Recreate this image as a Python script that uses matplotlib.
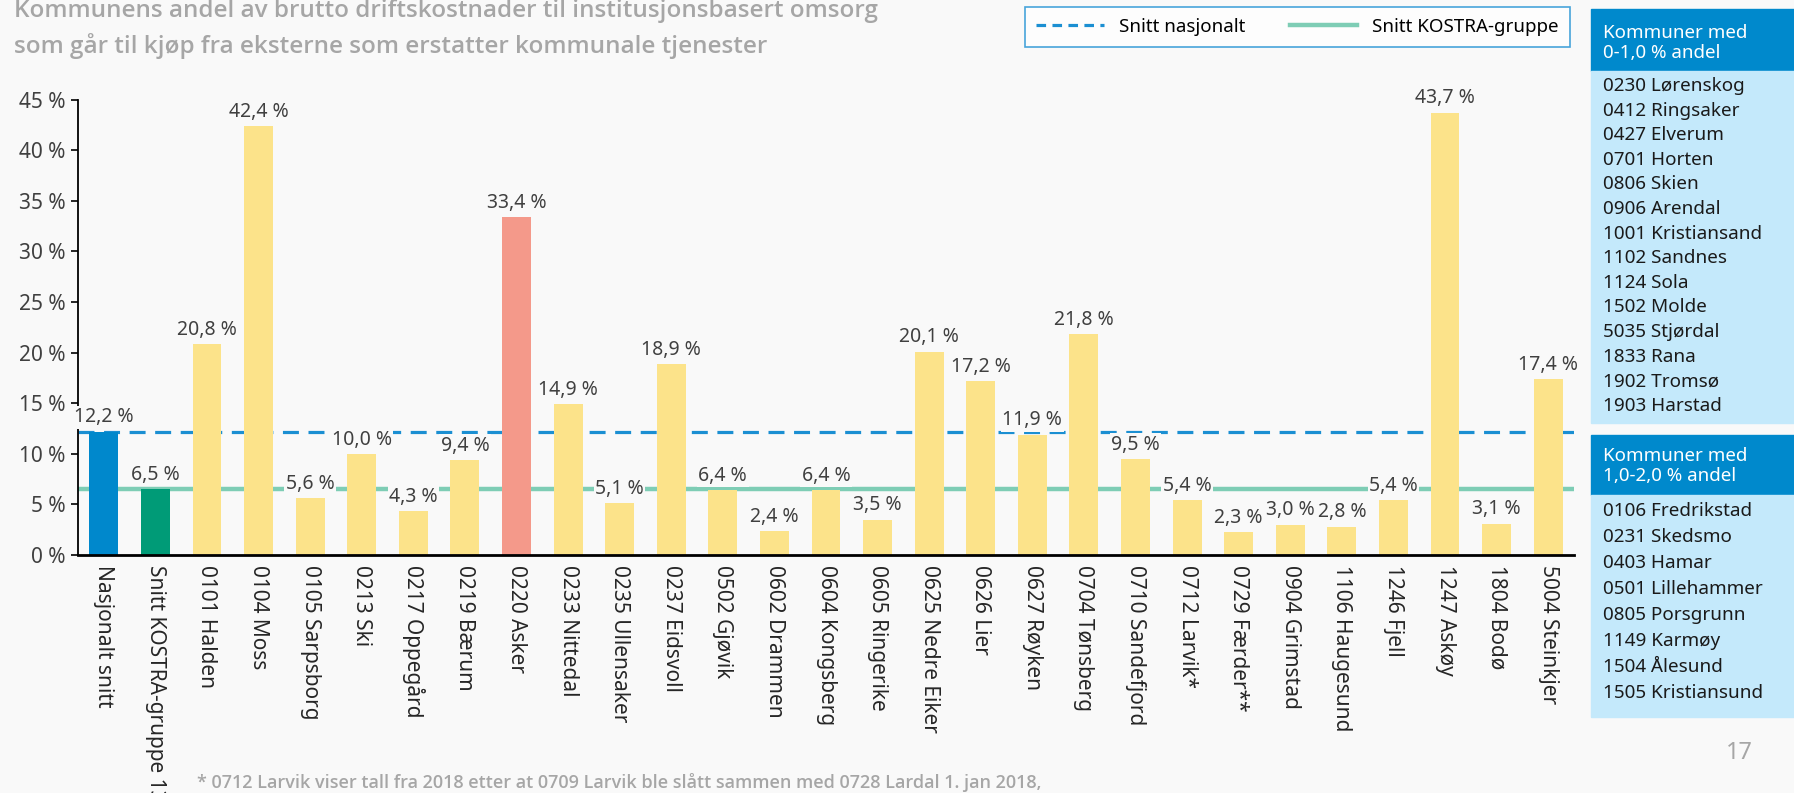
import matplotlib.pyplot as plt
from matplotlib.patches import Rectangle
from matplotlib.lines import Line2D

categories = ['Nasjonalt snitt', 'Snitt KOSTRA-gruppe 13', '0101 Halden', '0104 Moss',
              '0105 Sarpsborg', '0213 Ski', '0217 Oppegård', '0219 Bærum', '0220 Asker',
              '0233 Nittedal', '0235 Ullensaker', '0237 Eidsvoll', '0502 Gjøvik',
              '0602 Drammen', '0604 Kongsberg', '0605 Ringerike', '0625 Nedre Eiker',
              '0626 Lier', '0627 Røyken', '0704 Tønsberg', '0710 Sandefjord',
              '0712 Larvik*', '0729 Færder**', '0904 Grimstad', '1106 Haugesund',
              '1246 Fjell', '1247 Askøy', '1804 Bodø', '5004 Steinkjer']
values = [12.2, 6.5, 20.8, 42.4, 5.6, 10.0, 4.3, 9.4, 33.4, 14.9, 5.1, 18.9, 6.4,
          2.4, 6.4, 3.5, 20.1, 17.2, 11.9, 21.8, 9.5, 5.4, 2.3, 3.0, 2.8, 5.4, 43.7,
          3.1, 17.4]
snitt_nasjonalt = 12.2
snitt_kostra = 6.5
yticks = [0, 5, 10, 15, 20, 25, 30, 35, 40, 45]

title_lines = ['Kommunens andel av brutto driftskostnader til institusjonsbasert omsorg',
               'som går til kjøp fra eksterne som erstatter kommunale tjenester']
panel1_head = 'Kommuner med\n0-1,0 % andel'
panel1_list = ['0230 Lørenskog', '0412 Ringsaker', '0427 Elverum', '0701 Horten',
               '0806 Skien', '0906 Arendal', '1001 Kristiansand', '1102 Sandnes',
               '1124 Sola', '1502 Molde', '5035 Stjørdal', '1833 Rana',
               '1902 Tromsø', '1903 Harstad']
panel2_head = 'Kommuner med\n1,0-2,0 % andel'
panel2_list = ['0106 Fredrikstad', '0231 Skedsmo', '0403 Hamar', '0501 Lillehammer',
               '0805 Porsgrunn', '1149 Karmøy', '1504 Ålesund', '1505 Kristiansund']
footnote = '* 0712 Larvik viser tall fra 2018 etter at 0709 Larvik ble slått sammen med 0728 Lardal 1. jan 2018,'

BG = '#F9F9F9'
YELLOW = '#FCE38A'
colors = ['#0088CC', '#009B77'] + [YELLOW] * (len(values) - 2)
colors[categories.index('0220 Asker')] = '#F4998A'

plt.rcParams['font.family'] = ['Noto Sans', 'DejaVu Sans']

W, H = 1794, 793
fig = plt.figure(figsize=(W / 100, H / 100), dpi=100, facecolor=BG)


def fx(x):
    return x / W


def fy(y):
    return 1 - y / H


ax = fig.add_axes([fx(78), fy(555), fx(1574) - fx(78), fy(99.5) - fy(555)])
ax.set_facecolor(BG)

x = list(range(len(values)))
ax.axhline(snitt_nasjonalt, color='#1B8FD2', lw=2.3, ls=(0, (5, 3)), zorder=1)
ax.axhline(snitt_kostra, color='#7ECDB5', lw=3.2, zorder=1)
ax.bar(x, values, width=0.56, color=colors, zorder=2)

for xi, v in zip(x, values):
    ax.annotate(('%.1f %%' % v).replace('.', ','), (xi, v), xytext=(0, 3),
                textcoords='offset points', ha='center', va='bottom', fontsize=14,
                color='#404040', zorder=3,
                bbox=dict(facecolor=BG, edgecolor='none', pad=1))

ax.set_xlim(-0.5, len(values) - 0.5)
ax.set_ylim(0, 45)
ax.set_yticks(yticks)
ax.set_yticklabels(['%d %%' % t for t in yticks], fontsize=15, color='#404040')
ax.set_xticks(x)
ax.set_xticklabels(categories, rotation=270, fontsize=15, color='#262626', va='top')
ax.tick_params(axis='x', length=0, pad=7)
ax.tick_params(axis='y', length=5, width=1.2, direction='out', pad=4)
for s in ['top', 'right']:
    ax.spines[s].set_visible(False)
ax.spines['left'].set_linewidth(1.3)
ax.spines['bottom'].set_linewidth(2)

# title and footnote
fig.text(fx(14), fy(11), title_lines[0], fontsize=17.5, color='#A6A6A6',
         fontweight='semibold', family='Open Sans', va='center')
fig.text(fx(14), fy(46), title_lines[1], fontsize=17.5, color='#A6A6A6',
         fontweight='semibold', family='Open Sans', va='center')
fig.text(fx(197), fy(783), footnote, fontsize=13, color='#A6A6A6',
         fontweight='semibold', family='Open Sans', va='center')
fig.text(fx(1739), fy(753), '17', fontsize=17, color='#A6A6A6', ha='center', va='center')

# legend
handles = [Line2D([], [], color='#1B8FD2', lw=2.3, ls=(0, (3, 2))),
           Line2D([], [], color='#7ECDB5', lw=3.2)]
leg = fig.legend(handles, ['Snitt nasjonalt', 'Snitt KOSTRA-gruppe'], ncol=2,
                 loc='center', bbox_to_anchor=(fx(1297.5), fy(27)), fontsize=13.5,
                 frameon=True, fancybox=False, edgecolor='#1B8FD2', handlelength=3.6,
                 columnspacing=2.4, borderpad=0.6, handletextpad=0.8)
leg.get_frame().set_facecolor('white')
leg.get_frame().set_linewidth(1.2)

# side panels
HEAD = '#0089CC'
BODY = '#C4E9FB'
fig.patches.append(Rectangle((fx(1591), fy(71)), fx(203), fy(9) - fy(71),
                             transform=fig.transFigure, color=HEAD, zorder=0))
fig.patches.append(Rectangle((fx(1591), fy(423)), fx(203), fy(71) - fy(423),
                             transform=fig.transFigure, color=BODY, zorder=0))
fig.patches.append(Rectangle((fx(1591), fy(495)), fx(203), fy(435) - fy(495),
                             transform=fig.transFigure, color=HEAD, zorder=0))
fig.patches.append(Rectangle((fx(1591), fy(717)), fx(203), fy(495) - fy(717),
                             transform=fig.transFigure, color=BODY, zorder=0))

fig.text(fx(1603), fy(43), panel1_head, fontsize=13.5, color='white', va='center',
         linespacing=1.15)
for i, t in enumerate(panel1_list):
    fig.text(fx(1603), fy(86 + 24.6 * i), t, fontsize=13.6, color='#1A1A1A', va='center')
fig.text(fx(1603), fy(466), panel2_head, fontsize=13.5, color='white', va='center',
         linespacing=1.15)
for i, t in enumerate(panel2_list):
    fig.text(fx(1603), fy(511 + 26 * i), t, fontsize=13.6, color='#1A1A1A', va='center')

fig.savefig('out.png', dpi=100, facecolor=BG)
